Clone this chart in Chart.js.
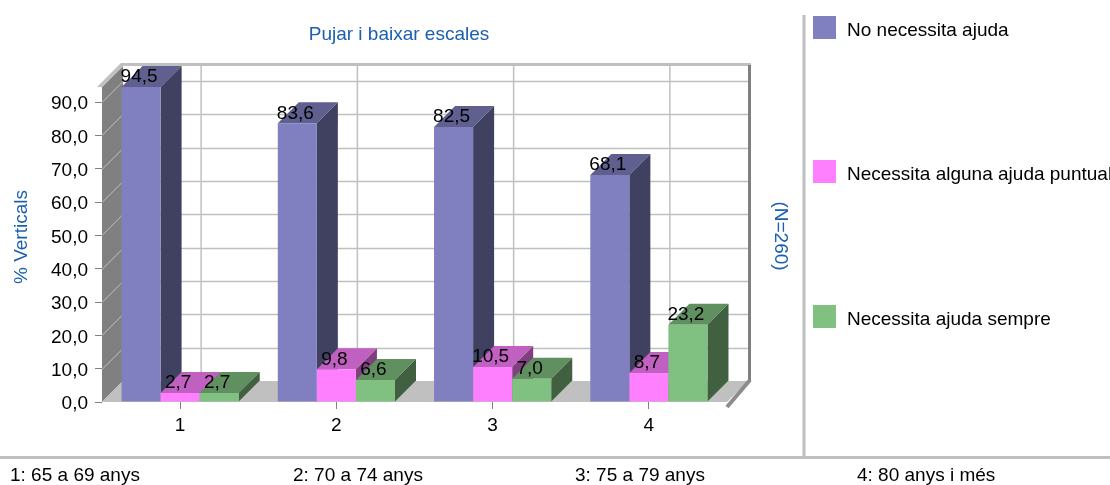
<!DOCTYPE html>
<html><head><meta charset="utf-8">
<style>html,body{margin:0;padding:0;background:#fff;overflow:hidden}canvas{display:block}</style>
<script src="https://cdn.jsdelivr.net/npm/chart.js@4/dist/chart.umd.min.js"></script>
</head><body><canvas id="c" width="1110" height="485"></canvas>
<script>
const categories = ['1','2','3','4'];
const seriesNames = ['No necessita ajuda','Necessita alguna ajuda puntual','Necessita ajuda sempre'];
const noNecessita = [94.5,83.6,82.5,68.1];
const alguna = [2.7,9.8,10.5,8.7];
const sempre = [2.7,6.6,7.0,23.2];
const footerLabels = ['1: 65 a 69 anys','2: 70 a 74 anys','3: 75 a 79 anys','4: 80 anys i més'];
const chartTitle = 'Pujar i baixar escales';
const yTitle = '% Verticals';
const nTitle = '(N=260)';
const frontColors = ['#8080c0','#ff80ff','#80c080'];
const topColors = ['#606090','#c060c0','#609060'];
const sideColors = ['#404060','#804080','#406040'];
const DX = 21, DY = 21;
const FAMILY = '"Liberation Sans", Arial, sans-serif';
const FONT = '19px ' + FAMILY;
const BLUE = '#1a5fb0';
const fmt = v => v.toFixed(1).replace('.', ',');
function poly(ctx, pts, fill){ctx.beginPath();pts.forEach((p,i)=>i?ctx.lineTo(p[0],p[1]):ctx.moveTo(p[0],p[1]));ctx.closePath();ctx.fillStyle=fill;ctx.fill();}
function line(ctx,x1,y1,x2,y2,col,w){ctx.beginPath();ctx.moveTo(x1,y1);ctx.lineTo(x2,y2);ctx.strokeStyle=col;ctx.lineWidth=w;ctx.stroke();}
const scene = {
  id:'scene',
  beforeDatasetsDraw(chart){
    const {ctx,chartArea:a,scales:{x,y}} = chart;
    ctx.save();
    poly(ctx,[[a.left,a.bottom],[a.left,a.top],[a.left+DX,a.top-DY],[a.left+DX,a.bottom-DY]],'#808080');
    poly(ctx,[[a.left,a.bottom],[a.right,a.bottom],[a.right+DX,a.bottom-DY],[a.left+DX,a.bottom-DY]],'#c0c0c0');
    y.ticks.forEach(t=>{
      const py = Math.round(y.getPixelForValue(t.value))+.5;
      if(t.value===0) return;
      line(ctx,a.left+DX,py-DY,a.right+DX,py-DY,'#c0c0c0',1.5);
      line(ctx,a.left,py,a.left+DX,py-DY,'#c0c0c0',1);
    });
    categories.forEach((c,i)=>{
      const px = x.getPixelForValue(i)+DX;
      line(ctx,px,a.top-DY,px,a.bottom-DY,'#c0c0c0',1.5);
    });
    poly(ctx,[[a.left-5,a.top],[a.left,a.top],[a.left+DX,a.top-DY],[a.left+DX-2,a.top-DY-3]],'#c0c0c0');
    line(ctx,a.left+DX-2,a.top-DY-1.5,a.right+DX+3,a.top-DY-1.5,'#c0c0c0',3);
    line(ctx,a.right+DX+1.5,a.top-DY-1,a.right+DX+1.5,a.bottom-DY,'#808080',3);
    line(ctx,a.right+DX+2,a.bottom-DY-1,a.right,a.bottom+5,'#8c8c8c',4);
    ctx.restore();
  },
  // Series are painted left to right below, so each bar's front hides its neighbour's side.
  beforeDatasetDraw(){ return false; },
  afterDatasetsDraw(chart){
    const {ctx} = chart;
    chart.data.datasets.forEach((ds,i)=>{
      chart.getDatasetMeta(i).data.forEach(b=>{
        const l=b.x-b.width/2, r=b.x+b.width/2, t=b.y, bt=b.base;
        ctx.save();
        poly(ctx,[[l,t],[r,t],[r+DX,t-DY],[l+DX,t-DY]],topColors[i]);
        poly(ctx,[[r,t],[r+DX,t-DY],[r+DX,bt-DY],[r,bt]],sideColors[i]);
        ctx.restore();
        b.draw(ctx);
      });
    });
    ctx.save();
    ctx.font = FONT; ctx.fillStyle='#000'; ctx.textAlign='center'; ctx.textBaseline='middle';
    chart.data.datasets.forEach((ds,i)=>{
      chart.getDatasetMeta(i).data.forEach((b,j)=>{
        ctx.fillText(fmt(ds.data[j]), b.x-2, b.y-10);
      });
    });
    ctx.restore();
  },
  afterDraw(chart){
    const {ctx,width:W} = chart;
    ctx.save();
    line(ctx,804,15,804,457,'#c0c0c0',3);
    line(ctx,0,457.5,W,457.5,'#c0c0c0',3);
    ctx.font = FONT; ctx.textBaseline='middle';
    ctx.fillStyle=BLUE; ctx.textAlign='center';
    ctx.fillText(chartTitle,399,35);
    ctx.save();ctx.translate(22,237);ctx.rotate(-Math.PI/2);ctx.fillText(yTitle,0,0);ctx.restore();
    ctx.save();ctx.translate(780,236);ctx.rotate(Math.PI/2);ctx.fillText(nTitle,0,0);ctx.restore();
    const legendY=[28,172,317];
    ctx.textAlign='left';
    seriesNames.forEach((n,i)=>{
      ctx.fillStyle=frontColors[i];ctx.fillRect(813,legendY[i]-12,23,23);
      ctx.fillStyle='#000';ctx.fillText(n,847,legendY[i]+3);
    });
    [10,293,575,857].forEach((px,i)=>ctx.fillText(footerLabels[i],px,476));
    ctx.restore();
  }
};
new Chart(document.getElementById('c'),{
  type:'bar',
  data:{labels:categories,datasets:[noNecessita,alguna,sempre].map((d,i)=>({label:seriesNames[i],data:d,backgroundColor:frontColors[i],borderWidth:0}))},
  options:{
    responsive:false,animation:false,
    layout:{padding:{top:87,right:383,left:0,bottom:0}},
    datasets:{bar:{barPercentage:1,categoryPercentage:.75}},
    plugins:{legend:{display:false},tooltip:{enabled:false},title:{display:false}},
    scales:{
      x:{afterFit:s=>{s.height=83},grid:{display:true,offset:false,drawOnChartArea:false,drawTicks:true,tickLength:7,color:'#808080'},border:{display:false},
         ticks:{color:'#000',font:{family:FAMILY,size:19},padding:5,maxRotation:0}},
      y:{min:0,max:94.5,afterFit:s=>{s.width=102},grid:{display:true,drawOnChartArea:false,drawTicks:true,tickLength:7,color:'#808080'},border:{display:false},
         ticks:{stepSize:10,includeBounds:false,color:'#000',font:{family:FAMILY,size:19},padding:7,labelOffset:2,callback:v=>fmt(v)}}
    }
  },
  plugins:[scene]
});
</script></body></html>
